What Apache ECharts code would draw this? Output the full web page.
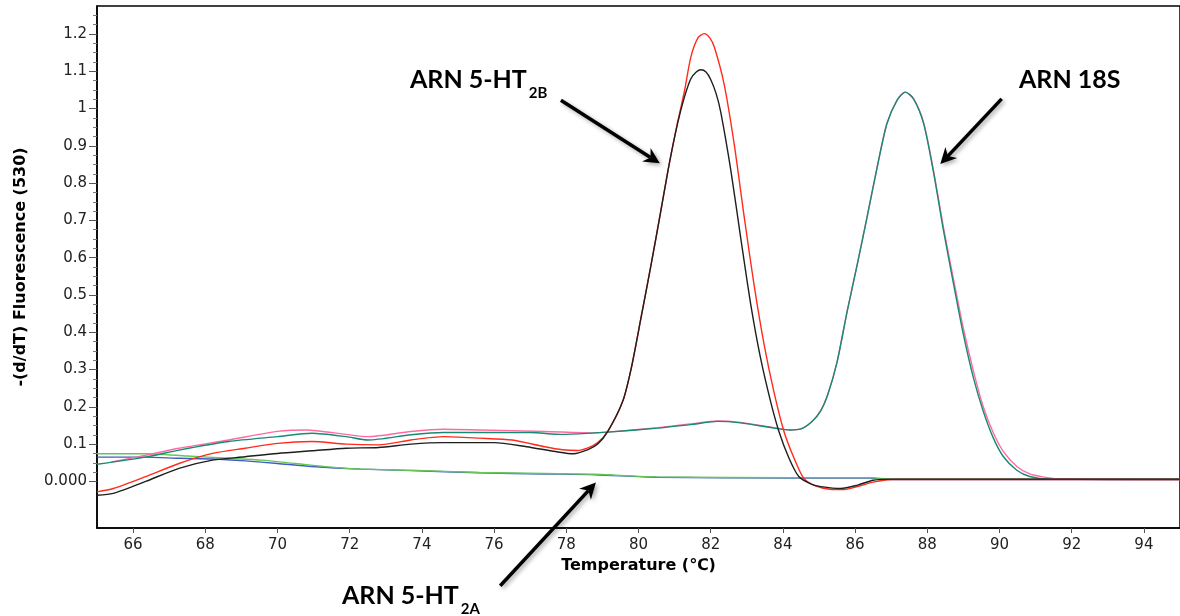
<!DOCTYPE html>
<html>
<head>
<meta charset="utf-8">
<script src="https://cdn.jsdelivr.net/npm/echarts@6/dist/echarts.min.js"></script>
<style>
html, body { margin: 0; padding: 0; background: #fff; }
#main { width: 1180px; height: 616px; }
</style>
</head>
<body>
<div id="main"></div>
<script>
// melt curves, [temperature, -(d/dT) fluorescence]
var ht2bRed = [[65.0,-0.028],[65.45,-0.019],[66.35,0.013],[67.27,0.048],[68.2,0.075],[69.1,0.089],[70.0,0.102],[70.95,0.107],[71.9,0.1],[72.8,0.098],[73.7,0.111],[74.6,0.12],[75.6,0.116],[76.5,0.111],[77.4,0.093],[77.9,0.085],[78.3,0.083],[78.6,0.09],[78.87,0.104],[79.15,0.134],[79.56,0.214],[79.8,0.304],[80.07,0.439],[80.35,0.582],[80.62,0.726],[80.85,0.851],[81.08,0.962],[81.27,1.045],[81.45,1.138],[81.65,1.19],[81.82,1.201],[81.97,1.19],[82.1,1.165],[82.37,1.066],[82.65,0.905],[82.93,0.708],[83.2,0.528],[83.48,0.367],[83.75,0.241],[84.03,0.134],[84.31,0.062],[84.58,0.008],[84.9,-0.012],[85.3,-0.021],[85.7,-0.022],[86.1,-0.013],[86.5,-0.002],[87.0,0.005],[95.0,0.005]];
var ht2bBlack = [[65.0,-0.037],[65.45,-0.032],[66.35,0.0],[67.27,0.035],[68.2,0.057],[69.1,0.066],[70.0,0.075],[70.95,0.082],[71.9,0.089],[72.8,0.091],[73.7,0.1],[74.6,0.104],[76.0,0.104],[76.9,0.093],[77.7,0.08],[78.2,0.074],[78.6,0.085],[78.87,0.1],[79.15,0.134],[79.56,0.214],[79.8,0.304],[80.07,0.439],[80.35,0.582],[80.62,0.726],[80.85,0.851],[81.08,0.959],[81.27,1.03],[81.45,1.08],[81.6,1.098],[81.73,1.104],[81.87,1.098],[82.0,1.078],[82.15,1.04],[82.28,0.99],[82.56,0.833],[82.83,0.654],[83.11,0.474],[83.38,0.331],[83.66,0.214],[83.89,0.134],[84.17,0.062],[84.44,0.013],[84.8,-0.008],[85.05,-0.014],[85.6,-0.019],[86.07,-0.01],[86.5,0.003],[87.0,0.006],[95.0,0.006]];
var s18Pink = [[65.4,0.052],[66.35,0.07],[67.27,0.089],[68.65,0.111],[70.0,0.134],[70.8,0.138],[71.9,0.126],[72.5,0.12],[73.7,0.134],[74.6,0.14],[75.6,0.138],[77.4,0.134],[78.8,0.13],[79.15,0.132],[80.53,0.144],[81.5,0.155],[82.19,0.162],[82.83,0.158],[83.76,0.144],[84.2,0.138],[84.48,0.14],[84.8,0.16],[85.05,0.19],[85.25,0.235],[85.5,0.32],[85.78,0.456],[86.06,0.582],[86.33,0.708],[86.61,0.842],[86.88,0.959],[87.16,1.022],[87.39,1.044],[87.62,1.026],[87.9,0.962],[88.17,0.835],[88.45,0.68],[88.73,0.54],[89.0,0.41],[89.28,0.295],[89.55,0.2],[89.83,0.13],[90.11,0.08],[90.48,0.04],[90.84,0.02],[91.2,0.012],[91.6,0.007],[95.0,0.005]];
var s18Teal = [[65.0,0.046],[66.35,0.065],[67.27,0.084],[68.65,0.107],[70.0,0.12],[70.95,0.129],[71.9,0.12],[72.5,0.111],[73.7,0.125],[74.6,0.131],[77.0,0.131],[77.86,0.126],[78.8,0.13],[79.15,0.132],[80.53,0.143],[81.5,0.153],[82.19,0.161],[82.83,0.157],[83.76,0.143],[84.2,0.138],[84.48,0.14],[84.8,0.16],[85.05,0.19],[85.25,0.235],[85.5,0.32],[85.78,0.456],[86.06,0.582],[86.33,0.708],[86.61,0.842],[86.88,0.959],[87.16,1.022],[87.39,1.044],[87.62,1.026],[87.9,0.959],[88.17,0.83],[88.45,0.672],[88.73,0.528],[89.0,0.394],[89.28,0.277],[89.55,0.188],[89.83,0.116],[90.11,0.066],[90.48,0.03],[90.84,0.013],[91.4,0.006],[95.0,0.005]];
var ht2aBlue = [[65.0,0.065],[66.35,0.065],[67.27,0.062],[68.2,0.06],[69.1,0.055],[70.0,0.048],[70.95,0.04],[72.3,0.033],[73.7,0.029],[75.6,0.023],[77.4,0.02],[78.8,0.018],[80.5,0.011],[84.2,0.009],[86.4,0.009],[87.0,0.005],[95.0,0.005]];
var ht2aGreen = [[65.0,0.074],[66.35,0.074],[67.5,0.068],[68.65,0.062],[69.57,0.057],[70.5,0.048],[71.9,0.035],[73.7,0.03],[75.6,0.024],[77.4,0.021],[78.8,0.019],[79.5,0.016],[80.5,0.012],[84.2,0.01],[86.4,0.01],[87.0,0.006],[95.0,0.006]];

var xTicks = [66, 68, 70, 72, 74, 76, 78, 80, 82, 84, 86, 88, 90, 92, 94];
var yMajor = [0, 0.1, 0.2, 0.3, 0.4, 0.5, 0.6, 0.7, 0.8, 0.9, 1, 1.1, 1.2];
var yLabels = ['0.000', '0.1', '0.2', '0.3', '0.4', '0.5', '0.6', '0.7', '0.8', '0.9', '1', '1.1', '1.2'];

var yMin = -0.125, yMax = 1.275;
// petites graduations : 4 par intervalle de 0.1
var yMinor = [];
for (var i = 0; i < yMajor.length; i++) {
	for (var k = 1; k < 4; k++) {
		var m = yMajor[i] + k * 0.025;
		if (m < 1.27) yMinor.push(Math.round(m * 1000) / 1000);
	}
}

var chart = echarts.init(document.getElementById('main'));

function courbe(name, data, color) {
	return {
		name: name,
		type: 'line',
		data: data,
		showSymbol: false,
		smooth: 0.25,
		silent: true,
		lineStyle: { color: color, width: 1.4 },
		itemStyle: { color: color }
	};
}

var tickFont = { fontFamily: 'DejaVu Sans', fontSize: 15, color: '#222' };
var titleFont = { fontFamily: 'DejaVu Sans', fontWeight: 'bold', fontSize: 16, color: '#000' };

var option = {
	animation: false,
	backgroundColor: '#fff',
	grid: { left: 97, right: -2, top: 6, bottom: 88, show: true, borderColor: '#000', borderWidth: 1.5 },
	xAxis: {
		type: 'value',
		min: 65,
		max: 95,
		name: 'Temperature (℃)',
		nameLocation: 'middle',
		nameGap: 29,
		nameTextStyle: titleFont,
		axisLine: { onZero: false, lineStyle: { color: '#000', width: 1.5 } },
		axisTick: { customValues: xTicks, length: 5, lineStyle: { color: '#555' } },
		axisLabel: Object.assign({ customValues: xTicks, margin: 10 }, tickFont),
		splitLine: { show: false }
	},
	yAxis: [{
		type: 'value',
		min: yMin,
		max: yMax,
		name: '-(d/dT) Fluorescence (530)',
		nameLocation: 'middle',
		nameGap: 68,
		nameRotate: 90,
		nameTextStyle: titleFont,
		axisLine: { show: true, onZero: false, lineStyle: { color: '#000', width: 1.5 } },
		axisTick: { customValues: yMinor, length: 4, lineStyle: { color: '#777' } },
		axisLabel: { show: false },
		splitLine: { show: false }
	}, {
		type: 'value',
		min: yMin,
		max: yMax,
		position: 'left',
		axisLine: { show: false, onZero: false },
		axisTick: { customValues: yMajor, length: 8, lineStyle: { color: '#555' } },
		axisLabel: Object.assign({
			customValues: yMajor,
			margin: 10,
			formatter: function (v) {
				for (var j = 0; j < yMajor.length; j++) {
					if (Math.abs(yMajor[j] - v) < 1e-6) return yLabels[j];
				}
				return '';
			}
		}, tickFont),
		splitLine: { show: false }
	}],
	series: [
		courbe('5-HT2A 1', ht2aBlue, '#3f5cc4'),
		courbe('5-HT2A 2', ht2aGreen, '#66c653'),
		courbe('18S 1', s18Pink, '#ff6aa2'),
		courbe('18S 2', s18Teal, '#168a72'),
		courbe('5-HT2B 1', ht2bRed, '#ff2b1c'),
		courbe('5-HT2B 2', ht2bBlack, '#1e1e1e')
	]
};
chart.setOption(option);

// annotations : flèches en coordonnées des données
var fleches = [
	{ from: [77.85, 1.022], to: [80.59, 0.853] },
	{ from: [90.06, 1.026], to: [88.36, 0.851] },
	{ from: [76.17, -0.28], to: [78.82, -0.003] }
];
// étiquettes (pixels): gauche, centre des capitales
var etiquettes = [
	{ x: 410, y: 80, main: 'ARN 5-HT', sub: '2B' },
	{ x: 1019, y: 80, main: 'ARN 18S', sub: '' },
	{ x: 342, y: 596, main: 'ARN 5-HT', sub: '2A' }
];

var ctx = document.createElement('canvas').getContext('2d');
var mainFont = 'bold 25px Lato';
var subFont = 'bold 15px Lato';
var ombre = { shadowBlur: 4, shadowColor: 'rgba(0,0,0,0.35)', shadowOffsetX: 2, shadowOffsetY: 2 };

var graphics = [];
fleches.forEach(function (f) {
	var a = chart.convertToPixel({ gridIndex: 0 }, f.from);
	var b = chart.convertToPixel({ gridIndex: 0 }, f.to);
	var ang = Math.atan2(b[1] - a[1], b[0] - a[0]);
	var L = 16, W = 8, N = 11;
	var ux = Math.cos(ang), uy = Math.sin(ang);
	var bx = b[0] - ux * N, by = b[1] - uy * N;
	graphics.push({
		type: 'line',
		shape: { x1: a[0], y1: a[1], x2: bx, y2: by },
		style: Object.assign({ stroke: '#000', lineWidth: 3.5 }, ombre),
		z: 100
	});
	graphics.push({
		type: 'polygon',
		shape: {
			points: [
				[b[0], b[1]],
				[b[0] - ux * L - uy * W, b[1] - uy * L + ux * W],
				[bx, by],
				[b[0] - ux * L + uy * W, b[1] - uy * L - ux * W]
			]
		},
		style: Object.assign({ fill: '#000' }, ombre),
		z: 100
	});
});
etiquettes.forEach(function (e) {
	graphics.push({
		type: 'text',
		style: { text: e.main, x: e.x, y: e.y, font: mainFont, fill: '#000', verticalAlign: 'middle', align: 'left' },
		z: 100
	});
	if (e.sub) {
		ctx.font = mainFont;
		var w = ctx.measureText(e.main).width;
		graphics.push({
			type: 'text',
			style: { text: e.sub, x: e.x + w + 2, y: e.y + 13, font: subFont, fill: '#000', verticalAlign: 'middle', align: 'left' },
			z: 100
		});
	}
});
chart.setOption({ graphic: graphics });
</script>
</body>
</html>
